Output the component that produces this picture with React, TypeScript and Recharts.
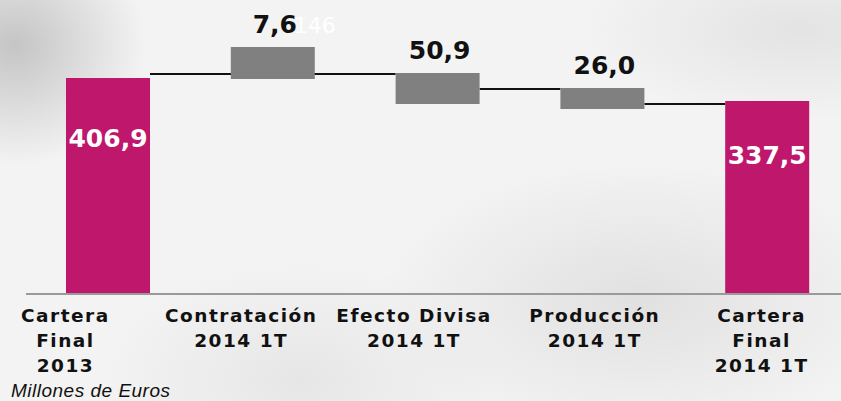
import { BarChart, Bar, XAxis, YAxis, LabelList, Label } from 'recharts'

// one entry per category, one string per line of the axis label
const categoryLines = [
  ['Cartera', 'Final', '2013'],
  ['Contratación', '2014 1T'],
  ['Efecto Divisa', '2014 1T'],
  ['Producción', '2014 1T'],
  ['Cartera', 'Final', '2014 1T'],
]
const valueLabels = ['406,9', '7,6', '50,9', '26,0', '337,5']
const barKinds = ['total', 'delta', 'delta', 'delta', 'total']

// the slide draws the waterfall schematically (not to scale), so the bar
// extents are read off the picture in its own units, 0 = baseline
const barLow = [0, 215, 190, 185, 0]
const barHigh = [216, 247, 221, 206, 193]

// connector leaving each bar: level, and how many bars along it ends
const connectorLevel = [220, null, 205, 190, null]
const connectorSpan = [2, 0, 1, 1, 0]

// stray white text printed next to the 7,6 label on the slide
const overprint = ['', '146', '', '', '']
const unitNote = 'Millones de Euros'

const CHART_W = 850
const CHART_H = 401
const MARGIN_LEFT = 26
const BAND = (CHART_W - MARGIN_LEFT) / categoryLines.length
const MAGENTA = '#BE176C'
const GREY = '#808080'
const BOLD_FONT = '"DejaVu Sans", Verdana, sans-serif'

// axis labels on the slide are hand placed, a little left of each bar
const LABEL_SHIFT = [-43, -32, -24, -8, -6]

const data = categoryLines.map((lines, i) => ({
  name: lines.join(' '),
  range: [barLow[i], barHigh[i]],
}))

// eslint-disable-next-line @typescript-eslint/no-explicit-any
function WaterfallBar(props: any) {
  const { x, y, width, height, index } = props
  const top = Math.min(y, y + height)
  const h = Math.abs(height)
  const ppu = h / (barHigh[index] - barLow[index])
  const level = connectorLevel[index]
  return (
    <g>
      {level != null && (
        <line
          x1={x + width}
          x2={x + connectorSpan[index] * BAND}
          y1={top + (barHigh[index] - level) * ppu}
          y2={top + (barHigh[index] - level) * ppu}
          stroke="#111"
          strokeWidth={2}
        />
      )}
      <rect x={x} y={top} width={width} height={h} fill={barKinds[index] === 'total' ? MAGENTA : GREY} />
    </g>
  )
}

// eslint-disable-next-line @typescript-eslint/no-explicit-any
function ValueLabel(props: any) {
  const vb = props.viewBox || props
  const { x, y, width, height } = vb
  const i = props.index
  const top = Math.min(y, y + height)
  const h = Math.abs(height)
  const cx = x + width / 2
  if (barKinds[i] === 'total') {
    return (
      <text x={cx} y={top + h * 0.28 + 9} textAnchor="middle" fill="#fff" fontFamily={BOLD_FONT} fontWeight="bold" fontSize={25}>
        {valueLabels[i]}
      </text>
    )
  }
  return (
    <g>
      {overprint[i] && (
        <text x={cx + 21} y={top - 14} fill="#fff" fontFamily={BOLD_FONT} fontSize={22}>
          {overprint[i]}
        </text>
      )}
      <text x={cx + 2} y={top - 14} textAnchor="middle" fill="#111" fontFamily={BOLD_FONT} fontWeight="bold" fontSize={25}>
        {valueLabels[i]}
      </text>
    </g>
  )
}

// eslint-disable-next-line @typescript-eslint/no-explicit-any
function CategoryTick(props: any) {
  const { x, y, index } = props
  const lines = categoryLines[index] || []
  return (
    <g>
      {lines.map((line, j) => (
        <text
          key={j}
          x={x + LABEL_SHIFT[index]}
          y={y + 28 + j * 25}
          textAnchor="middle"
          fill="#111"
          fontFamily={BOLD_FONT}
          fontWeight="bold"
          fontSize={18.5}
          letterSpacing={1.5}
        >
          {line}
        </text>
      ))}
    </g>
  )
}

export default function App() {
  return (
    <div
      style={{
        position: 'absolute',
        left: 0,
        top: 0,
        width: 841,
        height: 401,
        overflow: 'hidden',
        background:
          'radial-gradient(ellipse 130px 120px at 15px 45px, rgba(140,140,140,0.45), rgba(140,140,140,0) 100%),' +
          'radial-gradient(ellipse 260px 140px at 640px 300px, rgba(170,170,170,0.25), rgba(170,170,170,0) 100%),' +
          'radial-gradient(ellipse 220px 90px at 800px 30px, rgba(180,180,180,0.25), rgba(180,180,180,0) 100%),' +
          'radial-gradient(ellipse 200px 120px at 300px 380px, rgba(180,180,180,0.2), rgba(180,180,180,0) 100%),' +
          '#f3f3f3',
      }}
    >
      <BarChart width={CHART_W} height={CHART_H} data={data} margin={{ top: 44, right: 0, bottom: 0, left: MARGIN_LEFT }}>
        <XAxis
          dataKey="name"
          height={107}
          interval={0}
          tickLine={false}
          tickSize={0}
          tickMargin={0}
          axisLine={{ stroke: '#9a9a9a', strokeWidth: 2 }}
          tick={<CategoryTick />}
        >
          <Label
            // eslint-disable-next-line @typescript-eslint/no-explicit-any
            content={(p: any) => (
              <text x={p.viewBox.x - 15} y={p.viewBox.y + 103} fill="#111" fontFamily='"Liberation Sans", Arial, sans-serif' fontStyle="italic" fontSize={19} letterSpacing={0.5}>
                {unitNote}
              </text>
            )}
          />
        </XAxis>
        <YAxis hide domain={[0, 250]} />
        <Bar dataKey="range" barSize={84} shape={<WaterfallBar />} isAnimationActive={false}>
          <LabelList dataKey="range" content={<ValueLabel />} />
        </Bar>
      </BarChart>
    </div>
  )
}
